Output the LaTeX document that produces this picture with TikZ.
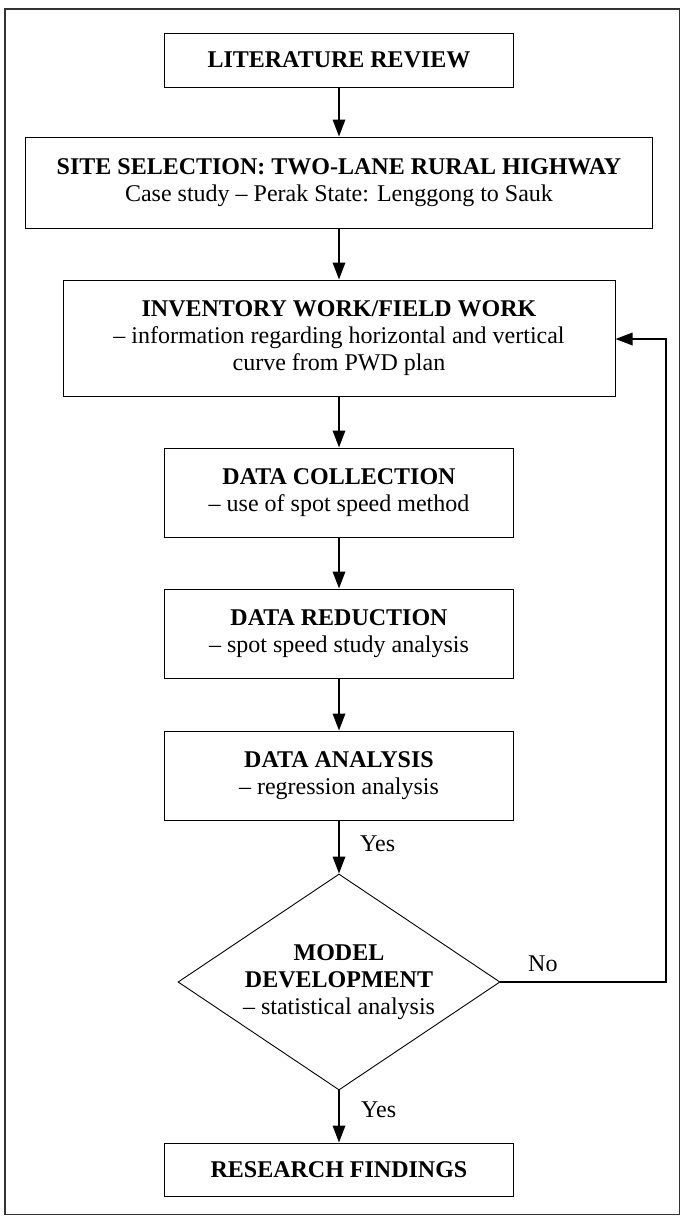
\documentclass[tikz,border=0pt]{standalone}
\usepackage{fontspec}
\setmainfont{Liberation Serif}
\usetikzlibrary{arrows.meta,shapes.geometric}
\begin{document}
\begin{tikzpicture}[x=1pt,y=-1pt,
  txt/.style={font=\fontsize{24}{27}\selectfont},
  box/.style={txt, draw, line width=1pt, rectangle, align=center, inner sep=0pt},
  arr/.style={line width=1.8pt, -{Triangle[length=17pt,width=12.5pt]}},
  lbl/.style={txt, inner sep=0pt}]
\useasboundingbox (0,0) rectangle (681,1216);
\draw[line width=1.2pt, black!80] (5,9) rectangle (679.5,1214.5);

\node[box, minimum width=349pt, minimum height=54pt] (lit) at (339,60) {\textbf{LITERATURE REVIEW}};
\node[box, minimum width=627pt, minimum height=91pt] (site) at (339,182.5) {\textbf{SITE SELECTION: TWO-LANE RURAL HIGHWAY}\\Case study \textendash{} Perak State: Lenggong to Sauk};
\node[box, minimum width=552pt, minimum height=116pt] (inv) at (339,338) {\textbf{INVENTORY WORK/FIELD WORK}\\\textendash{} information regarding horizontal and vertical\\curve from PWD plan};
\node[box, minimum width=349pt, minimum height=89pt] (dc) at (339,492.5) {\textbf{DATA COLLECTION}\\\textendash{} use of spot speed method};
\node[box, minimum width=349pt, minimum height=89pt] (dr) at (339,633.5) {\textbf{DATA REDUCTION}\\\textendash{} spot speed study analysis};
\node[box, minimum width=349pt, minimum height=89pt] (da) at (339,775.5) {\textbf{DATA ANALYSIS}\\\textendash{} regression analysis};
\node[txt, draw, diamond, line width=0.9pt, inner sep=0pt, minimum width=322pt, minimum height=216pt, aspect=1.49, align=center] (dia) at (339,982) {\textbf{MODEL}\\\textbf{DEVELOPMENT}\\\textendash{} statistical analysis};
\node[box, minimum width=349pt, minimum height=53pt] (rf) at (339,1169.5) {\textbf{RESEARCH FINDINGS}};

\draw[arr] (lit) -- (site);
\draw[arr] (site) -- (inv);
\draw[arr] (inv) -- (dc);
\draw[arr] (dc) -- (dr);
\draw[arr] (dr) -- (da);
\draw[arr] (da) -- (dia);
\draw[arr] (dia) -- (rf);
\coordinate (fb) at (666,339);
\draw[arr] (dia.east) -| (fb) -- (fb -| inv.east);

\node[lbl, anchor=base west] (yes1) at (360,851) {Yes};
\node[lbl, anchor=base west] (yes2) at (361,1117) {Yes};
\node[lbl, anchor=base west] (no) at (528,971) {No};
\end{tikzpicture}
\end{document}
